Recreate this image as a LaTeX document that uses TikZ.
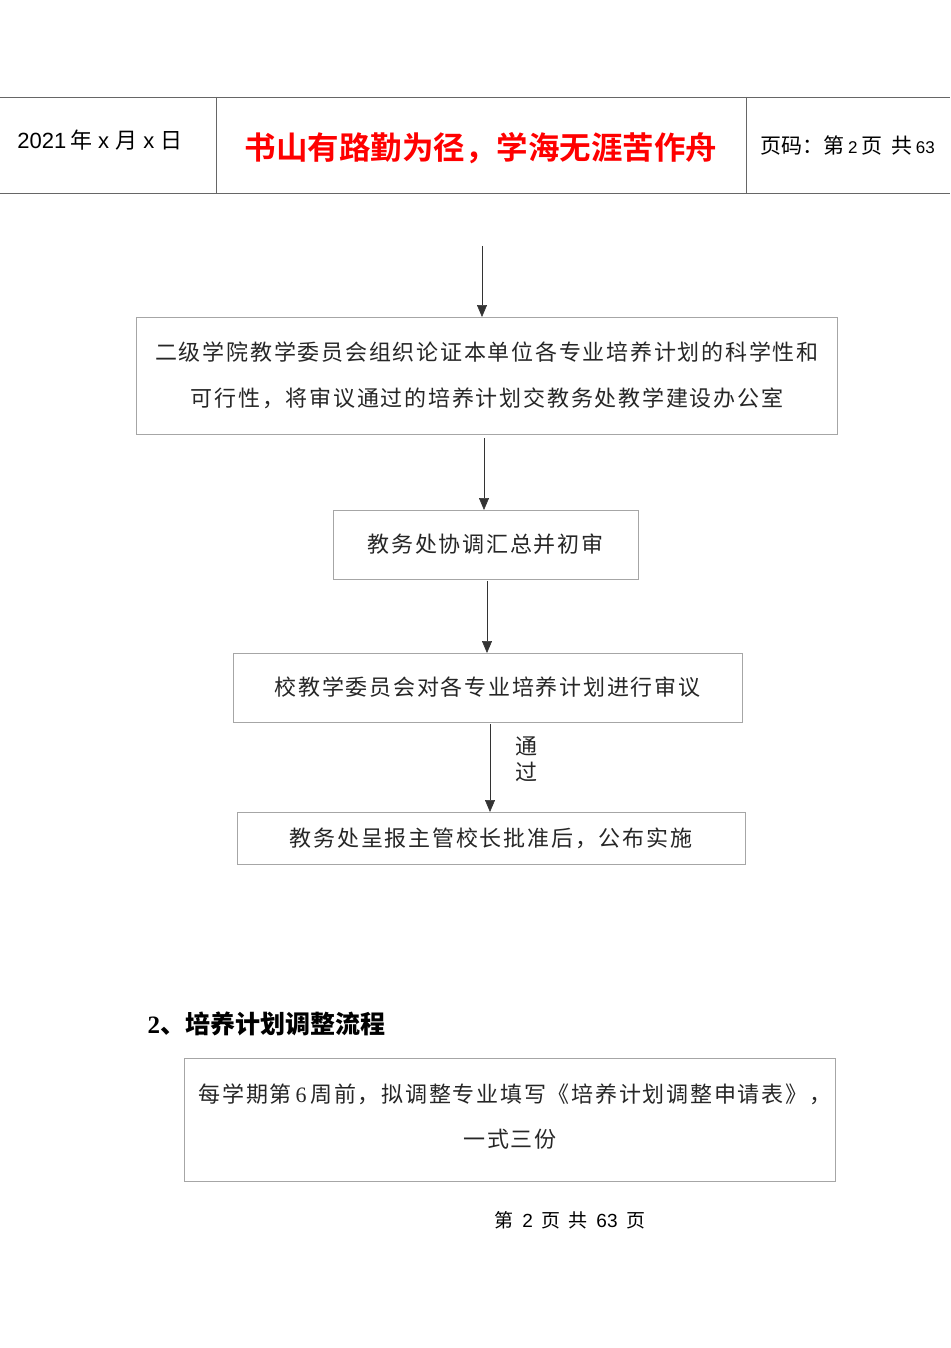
\documentclass[tikz,border=0pt]{standalone}
\usepackage{fontspec}
\setmainfont{Liberation Serif}
\newfontfamily\cjk{Noto Sans CJK SC}[LetterSpace=8]
\newfontfamily\cjkn{Noto Sans CJK SC}
\newfontfamily\cjkb{Noto Sans CJK SC Bold}
\newfontfamily\lsans{Liberation Sans}
\usetikzlibrary{arrows.meta}
\begin{document}
\begin{tikzpicture}[x=1pt,y=-1pt,
 box/.style={draw=black!35,line width=0.8pt},
 txt/.style={font=\fontsize{22}{26}\selectfont\cjk,text=black!85},
 arr/.style={-{Triangle[length=12pt,width=10pt]},line width=0.6pt,black!80}]
\useasboundingbox (0,0) rectangle (950,1348);
\draw[black!60,line width=0.8pt] (0,97) -- (950,97) (0,193) -- (950,193) (216,97) -- (216,193) (746,97) -- (746,193);
\node[font=\fontsize{22}{24}\selectfont] (d) at (100,140) {\lsans 2021\,\cjkn 年\lsans{} x \cjkn 月\lsans{} x \cjkn 日};
\node[font=\fontsize{31.5}{34}\selectfont\cjkb,text=red] (t) at (481,148) {书山有路勤为径，学海无涯苦作舟};
\node[anchor=west,font=\fontsize{21}{24}\selectfont\cjkn] (p) at (757,146) {页码：第\,{\lsans\fontsize{17}{20}\selectfont 2}\,页\ \ 共\,{\lsans\fontsize{17}{20}\selectfont 63}};
\coordinate (s0) at (482,246);
\node[box,minimum width=701pt,minimum height=117pt] (b1) at (486.5,375.5) {};
\node[txt] at (487,352) {二级学院教学委员会组织论证本单位各专业培养计划的科学性和};
\node[txt] at (487,398) {可行性，将审议通过的培养计划交教务处教学建设办公室};
\node[box,minimum width=305pt,minimum height=69pt,txt] (b2) at (485.5,544.5) {教务处协调汇总并初审};
\node[box,minimum width=509pt,minimum height=69pt,txt] (b3) at (487.5,687.5) {校教学委员会对各专业培养计划进行审议};
\node[box,minimum width=508pt,minimum height=52pt,txt] (b4) at (491,838) {教务处呈报主管校长批准后，公布实施};
\draw[arr] (s0) -- (482,317);
\draw[arr] (484,438) -- (484,510);
\draw[arr] (487,581) -- (487,653);
\draw[arr] (490,724) -- (490,812);
\node[txt] (l1) at (526,746) {通};
\node[txt] (l2) at (526,772) {过};
\node[anchor=west,font=\fontsize{25}{30}\selectfont\bfseries] (h) at (144,1024) {2\cjkb、培养计划调整流程};
\node[box,minimum width=651pt,minimum height=123pt] (b5) at (509.5,1119.5) {};
\node[txt] at (515,1094) {每学期第\,{\rmfamily 6}\,周前，拟调整专业填写《培养计划调整申请表》，};
\node[txt] at (510,1139) {一式三份};
\node[font=\fontsize{19}{22}\selectfont\cjkn] (f) at (570,1220) {第\ \ {\lsans 2}\ \ 页\ \ 共\ \ {\lsans 63}\ \ 页};
\end{tikzpicture}
\end{document}
